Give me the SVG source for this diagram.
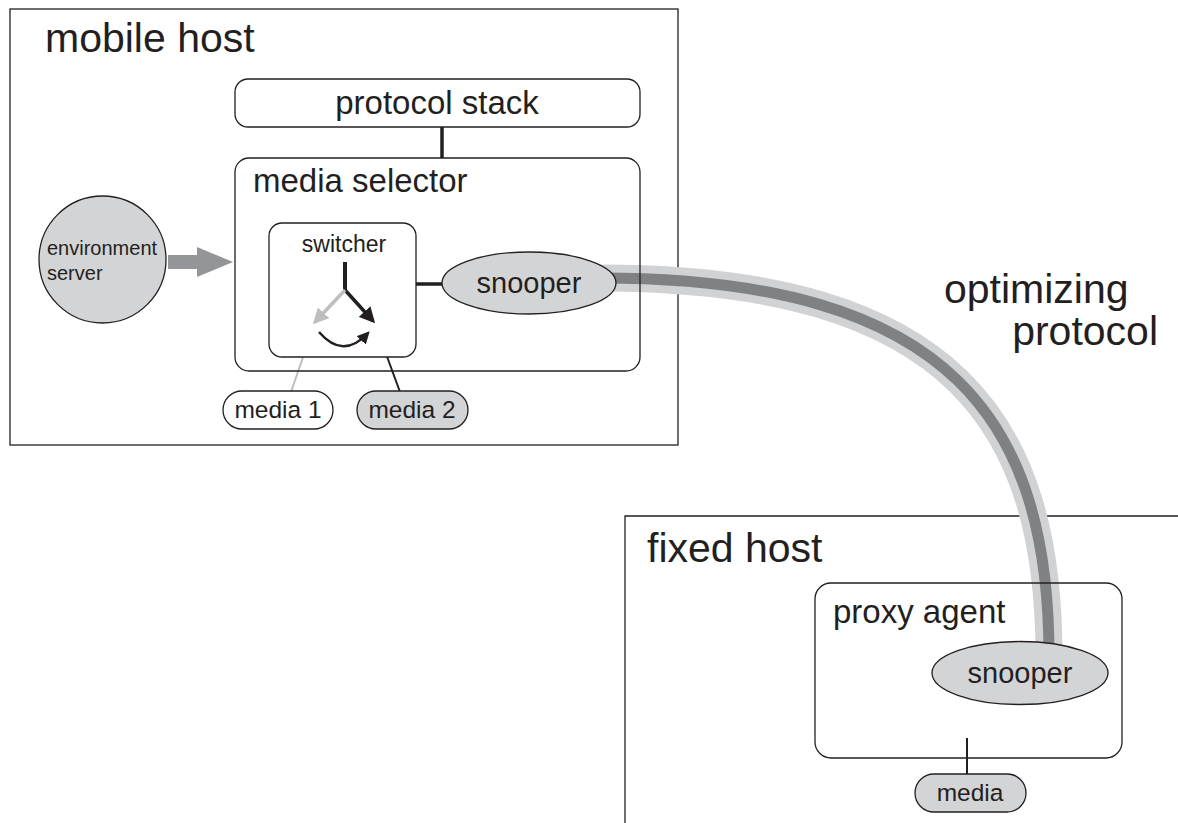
<svg xmlns="http://www.w3.org/2000/svg" width="1178" height="823" viewBox="0 0 1178 823">
  <style>
    text { font-family: "Liberation Sans", Arial, sans-serif; fill: #231f20; }
    .box { fill: #ffffff; stroke: #231f20; stroke-width: 1.3; }
    .shade { fill: #d3d4d6; stroke: #231f20; stroke-width: 1.3; }
    .link { stroke: #231f20; stroke-width: 3.5; fill: none; }
    .thin { stroke: #231f20; stroke-width: 2; fill: none; }
  </style>
  <defs>
    <marker id="headBlack" viewBox="0 0 10 10" refX="8" refY="5" markerWidth="4.5" markerHeight="4.5" orient="auto" markerUnits="strokeWidth">
      <path d="M0,0 L10,5 L0,10 Z" fill="#231f20"/>
    </marker>
    <marker id="headGrey" viewBox="0 0 10 10" refX="8" refY="5" markerWidth="4.5" markerHeight="4.5" orient="auto" markerUnits="strokeWidth">
      <path d="M0,0 L10,5 L0,10 Z" fill="#bcbec0"/>
    </marker>
    <marker id="headCurve" viewBox="0 0 10 10" refX="8" refY="5" markerWidth="5" markerHeight="5" orient="auto" markerUnits="strokeWidth">
      <path d="M0,0 L10,5 L0,10 Z" fill="#231f20"/>
    </marker>
  </defs>

  <!-- host frames -->
  <g id="mobile-host">
    <rect x="10" y="9" width="668" height="436" fill="#ffffff" stroke="#231f20" stroke-width="1.3"/>
    <text x="45" y="52" font-size="41">mobile host</text>
  </g>
  <g id="fixed-host">
    <path d="M625,823 L625,516 L1178,516" fill="none" stroke="#231f20" stroke-width="1.3"/>
    <text x="647" y="562" font-size="41">fixed host</text>
  </g>

  <!-- connectors -->
  <g id="connectors">
    <!-- optimizing protocol channel between the two snoopers -->
    <path d="M600,278 C955,278 1050,425 1049,660" fill="none" stroke="#d1d2d4" stroke-width="27"/>
    <path d="M600,278 C955,278 1050,425 1049,660" fill="none" stroke="#808185" stroke-width="11"/>
    <!-- stack to selector -->
    <line class="link" x1="442" y1="127" x2="442" y2="158"/>
    <!-- environment server feed -->
    <path d="M168,255 L197,255 L197,247 L233,262 L197,277 L197,269 L168,269 Z" fill="#939598"/>
    <!-- switcher to snooper -->
    <line class="link" x1="416" y1="284" x2="442" y2="284"/>
    <!-- proxy agent to media -->
    <line class="thin" x1="967" y1="738" x2="967" y2="774"/>
    <!-- media links -->
    <line x1="312" y1="331" x2="291" y2="392" stroke="#bcbec0" stroke-width="2"/>
    <line x1="378" y1="332" x2="400" y2="392" stroke="#231f20" stroke-width="2"/>
  </g>

  <g id="protocol-stack">
    <rect class="box" x="235" y="79" width="405" height="48" rx="13"/>
    <text x="437" y="114" font-size="33" text-anchor="middle">protocol stack</text>
  </g>

  <g id="media-selector">
    <rect class="box" x="235" y="158" width="405" height="213" rx="14" fill-opacity="0"/>
    <text x="253" y="192" font-size="33">media selector</text>
  </g>

  <g id="switcher">
    <rect class="box" x="269" y="223" width="147" height="134" rx="13"/>
    <text x="344" y="252" font-size="23" text-anchor="middle">switcher</text>
    <line x1="345" y1="262" x2="345" y2="291" stroke="#231f20" stroke-width="4"/>
    <line x1="345" y1="290" x2="373" y2="321" stroke="#231f20" stroke-width="3.5" marker-end="url(#headBlack)"/>
    <line x1="345" y1="290" x2="315" y2="322" stroke="#bcbec0" stroke-width="3.5" marker-end="url(#headGrey)"/>
    <path d="M319,332 Q343,360 368,333" fill="none" stroke="#231f20" stroke-width="2.5" marker-end="url(#headCurve)"/>
  </g>

  <g id="snooper-mobile">
    <ellipse class="shade" cx="529" cy="283" rx="87" ry="31"/>
    <text x="529" y="293" font-size="29" text-anchor="middle">snooper</text>
  </g>

  <g id="environment-server">
    <circle class="shade" cx="102.5" cy="259.5" r="63.5"/>
    <text x="47" y="255" font-size="20">environment</text>
    <text x="47" y="280" font-size="20">server</text>
  </g>

  <g id="media-1">
    <rect class="box" x="223" y="391" width="110" height="38" rx="19"/>
    <text x="278" y="418" font-size="24.5" text-anchor="middle">media 1</text>
  </g>

  <g id="media-2">
    <rect class="shade" x="357" y="391" width="111" height="38" rx="19"/>
    <text x="412" y="418" font-size="24.5" text-anchor="middle">media 2</text>
  </g>

  <g id="optimizing-protocol-label">
    <text x="944" y="303" font-size="41">optimizing</text>
    <text x="1158" y="345" font-size="41" text-anchor="end">protocol</text>
  </g>

  <g id="proxy-agent">
    <rect x="815" y="583" width="307" height="175" rx="16" fill="none" stroke="#231f20" stroke-width="1.3"/>
    <text x="833" y="623" font-size="33">proxy agent</text>
  </g>

  <g id="snooper-fixed">
    <ellipse class="shade" cx="1020" cy="673" rx="88" ry="31.5"/>
    <text x="1020" y="683" font-size="29" text-anchor="middle">snooper</text>
  </g>

  <g id="media-fixed">
    <rect class="shade" x="915" y="774" width="111" height="38" rx="19"/>
    <text x="970" y="801" font-size="24.5" text-anchor="middle">media</text>
  </g>
</svg>
